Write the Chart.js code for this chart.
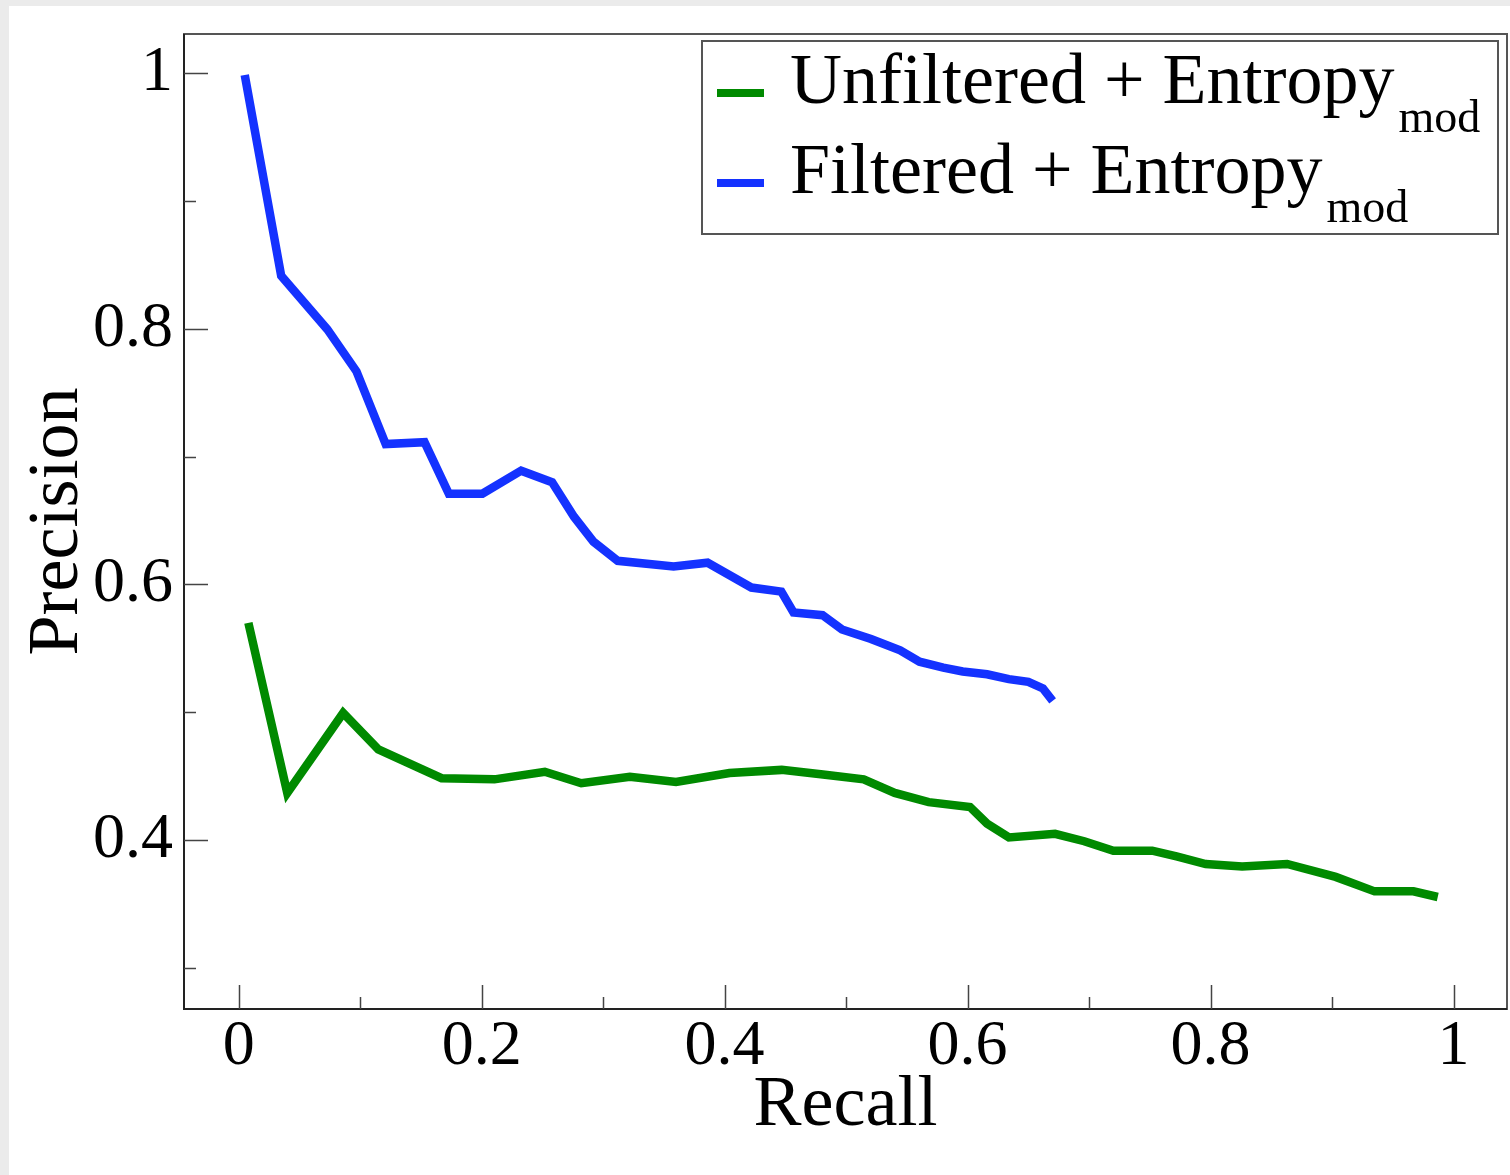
<!DOCTYPE html>
<html>
<head>
<meta charset="utf-8">
<script src="https://cdn.jsdelivr.net/npm/chart.js@4.4.1/dist/chart.umd.min.js"></script>
<style>
  html, body { margin: 0; padding: 0; background: #ebebeb; }
  #wrap { position: absolute; left: 0; top: 0; width: 1510px; height: 1175px; }
</style>
</head>
<body>
<div id="wrap"><canvas id="prChart"></canvas></div>
<script>
// recall / precision
const greenRecall = [0.008, 0.040, 0.086, 0.115, 0.167, 0.2105, 0.252, 0.282, 0.322, 0.360, 0.404, 0.447, 0.481, 0.5145, 0.540, 0.568, 0.602, 0.616, 0.634, 0.672, 0.696, 0.720, 0.752, 0.772, 0.796, 0.826, 0.863, 0.903, 0.935, 0.967, 0.987]
const greenPrecision = [0.570, 0.437, 0.4995, 0.471, 0.4485, 0.4476, 0.4535, 0.4446, 0.4496, 0.4455, 0.4526, 0.455, 0.4514, 0.4476, 0.437, 0.4298, 0.426, 0.413, 0.4022, 0.405, 0.3992, 0.3918, 0.3918, 0.3873, 0.3814, 0.3794, 0.3814, 0.3713, 0.360, 0.360, 0.3556]

const blueRecall = [0.005, 0.035, 0.073, 0.097, 0.121, 0.153, 0.173, 0.2006, 0.2325, 0.258, 0.276, 0.292, 0.312, 0.358, 0.386, 0.422, 0.4467, 0.4567, 0.4806, 0.4966, 0.5205, 0.5445, 0.5604, 0.580, 0.596, 0.616, 0.634, 0.650, 0.662, 0.670]
const bluePrecision = [0.9985, 0.8414, 0.7995, 0.7666, 0.7098, 0.7113, 0.671, 0.671, 0.689, 0.680, 0.653, 0.6335, 0.6185, 0.614, 0.617, 0.5976, 0.5944, 0.5781, 0.576, 0.5648, 0.5574, 0.5485, 0.5396, 0.535, 0.532, 0.5298, 0.526, 0.5238, 0.5187, 0.509]

const seriesLabels = ['Unfiltered + Entropy', 'Filtered + Entropy']
const seriesSub = 'mod'

const xMajorTicks = [0, 0.2, 0.4, 0.6, 0.8, 1]
const xMinorTicks = [0.1, 0.3, 0.5, 0.7, 0.9]
const yMajorTicks = [0.4, 0.6, 0.8, 1]
const yMinorTicks = [0.3, 0.5, 0.7, 0.9]

const serif = '"Liberation Serif", "Times New Roman", serif'

const toPoints = (xs, ys) => xs.map((x, i) => ({ x: x, y: ys[i] }))

// grey strip round the picture
const pageBackground = {
    id: 'pageBackground',
    beforeDraw(chart) {
        const ctx = chart.ctx
        ctx.save()
        ctx.fillStyle = '#ebebeb'
        ctx.fillRect(0, 0, chart.width, chart.height)
        ctx.fillStyle = '#ffffff'
        ctx.fillRect(9, 6, chart.width - 9, chart.height - 6)
        ctx.restore()
    },
}

// frame + inward tick marks
const frameTicks = {
    id: 'frameTicks',
    afterDraw(chart) {
        const ctx = chart.ctx
        const area = chart.chartArea
        const xs = chart.scales.x
        const ys = chart.scales.y
        ctx.save()
        ctx.strokeStyle = '#555555'
        ctx.lineWidth = 2
        ctx.strokeRect(area.left, area.top, area.right - area.left, area.bottom - area.top)
        ctx.strokeStyle = '#222222'
        ctx.beginPath()
        ctx.moveTo(area.left, area.top)
        ctx.lineTo(area.left, area.bottom)
        ctx.lineTo(area.right, area.bottom)
        ctx.stroke()

        ctx.beginPath()
        xMajorTicks.forEach(v => {
            const px = Math.round(xs.getPixelForValue(v)) + 0.5
            ctx.moveTo(px, area.bottom)
            ctx.lineTo(px, area.bottom - 24)
        })
        xMinorTicks.forEach(v => {
            const px = Math.round(xs.getPixelForValue(v)) + 0.5
            ctx.moveTo(px, area.bottom)
            ctx.lineTo(px, area.bottom - 12)
        })
        yMajorTicks.forEach(v => {
            const py = Math.round(ys.getPixelForValue(v)) + 0.5
            ctx.moveTo(area.left, py)
            ctx.lineTo(area.left + 24, py)
        })
        yMinorTicks.forEach(v => {
            const py = Math.round(ys.getPixelForValue(v)) + 0.5
            ctx.moveTo(area.left, py)
            ctx.lineTo(area.left + 12, py)
        })
        ctx.strokeStyle = '#444444'
        ctx.lineWidth = 1.5
        ctx.stroke()
        ctx.restore()
    },
}

// legend with subscript
const subLegend = {
    id: 'subLegend',
    afterDraw(chart) {
        const ctx = chart.ctx
        const area = chart.chartArea
        const right = area.right - 9
        const left = 702
        const top = area.top + 7
        const bottom = top + 193
        ctx.save()
        ctx.fillStyle = '#ffffff'
        ctx.fillRect(left, top, right - left, bottom - top)
        ctx.strokeStyle = '#555555'
        ctx.lineWidth = 2
        ctx.strokeRect(left, top, right - left, bottom - top)

        chart.data.datasets.forEach((ds, i) => {
            const baseY = top + 62 + i * 90
            ctx.strokeStyle = ds.borderColor
            ctx.lineWidth = 8
            ctx.beginPath()
            ctx.moveTo(717, baseY - 10)
            ctx.lineTo(764, baseY - 10)
            ctx.stroke()

            ctx.fillStyle = '#000000'
            ctx.textBaseline = 'alphabetic'
            ctx.textAlign = 'left'
            ctx.font = '72px ' + serif
            ctx.fillText(ds.label, 790, baseY)
            const w = ctx.measureText(ds.label).width
            ctx.font = '46px ' + serif
            ctx.fillText(seriesSub, 790 + w + 4, baseY + 29)
        })
        ctx.restore()
    },
}

const noEdgePadding = (scale) => {
    scale.paddingTop = 0
    scale.paddingBottom = 0
    scale.paddingLeft = 0
    scale.paddingRight = 0
}

const drawChart = () => {
    const canvas = document.getElementById('prChart')
    new Chart(canvas, {
        type: 'line',
        data: {
            datasets: [
                {
                    label: seriesLabels[0],
                    data: toPoints(greenRecall, greenPrecision),
                    borderColor: '#008a00',
                    borderWidth: 8.5,
                    pointRadius: 0,
                    tension: 0,
                    fill: false,
                },
                {
                    label: seriesLabels[1],
                    data: toPoints(blueRecall, bluePrecision),
                    borderColor: '#1432ff',
                    borderWidth: 8.5,
                    pointRadius: 0,
                    tension: 0,
                    fill: false,
                },
            ],
        },
        options: {
            responsive: true,
            maintainAspectRatio: false,
            animation: false,
            layout: { padding: { left: 0, top: 34, right: 3, bottom: 0 } },
            plugins: {
                legend: { display: false },
                tooltip: { enabled: false },
            },
            scales: {
                x: {
                    type: 'linear',
                    min: -0.045,
                    max: 1.044,
                    afterBuildTicks: (scale) => {
                        scale.ticks = xMajorTicks.map(v => ({ value: v }))
                    },
                    afterFit: (scale) => {
                        scale.height = 166
                        noEdgePadding(scale)
                    },
                    grid: { display: false, drawTicks: false, tickLength: 0 },
                    border: { display: false },
                    ticks: {
                        color: '#000000',
                        padding: 0,
                        maxRotation: 0,
                        autoSkip: false,
                        font: { family: serif, size: 64 },
                        callback: (v) => String(v),
                    },
                    title: {
                        display: true,
                        text: 'Recall',
                        color: '#000000',
                        font: { family: serif, size: 72, lineHeight: 1.2 },
                        padding: { top: 0, bottom: 26 },
                    },
                },
                y: {
                    type: 'linear',
                    min: 0.268,
                    max: 1.0305,
                    afterBuildTicks: (scale) => {
                        scale.ticks = yMajorTicks.map(v => ({ value: v }))
                    },
                    afterFit: (scale) => {
                        scale.width = 184
                        noEdgePadding(scale)
                    },
                    grid: { display: false, drawTicks: false, tickLength: 0 },
                    border: { display: false },
                    ticks: {
                        color: '#000000',
                        padding: 11,
                        autoSkip: false,
                        font: { family: serif, size: 64 },
                        callback: (v) => String(v),
                    },
                    title: {
                        display: true,
                        text: 'Precision',
                        color: '#000000',
                        font: { family: serif, size: 72, lineHeight: 1.2 },
                        padding: { top: 15, bottom: 0 },
                    },
                },
            },
        },
        plugins: [pageBackground, frameTicks, subLegend],
    })
}

document.fonts.load('72px "Liberation Serif"').then(drawChart, drawChart)
</script>
</body>
</html>
